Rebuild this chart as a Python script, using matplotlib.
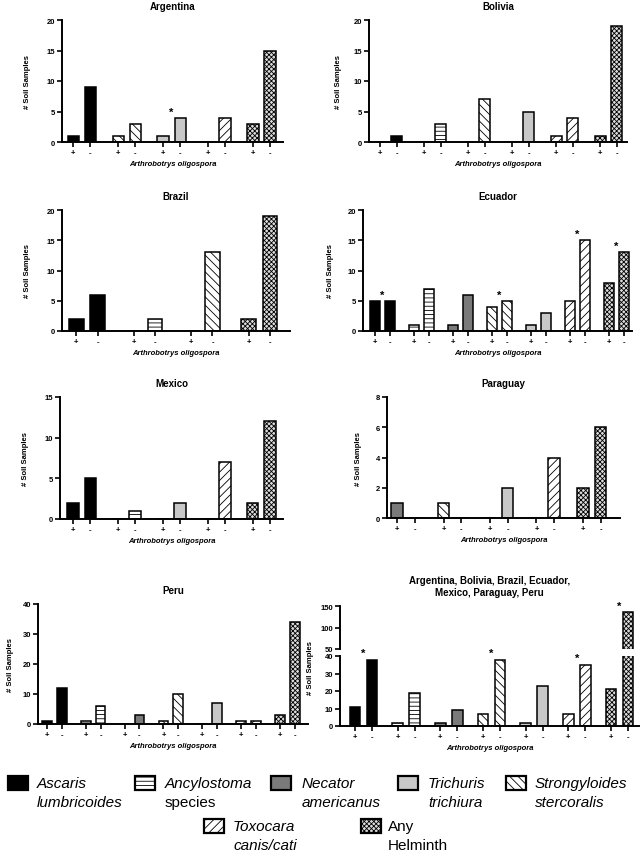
import matplotlib
matplotlib.use('Agg')
import matplotlib.pyplot as plt
from matplotlib.patches import Rectangle
import numpy as np

# species order as used in the panels
species = ['Ascaris', 'Ancylostoma', 'Necator', 'Strongyloides', 'Trichuris', 'Toxocara', 'Any']

# per-country counts: "+" = A. oligospora present, "-" = absent
argentina_groups = ['Ascaris', 'Strongyloides', 'Trichuris', 'Toxocara', 'Any']
argentina_pos = [1, 1, 1, 0, 3]
argentina_neg = [9, 3, 4, 4, 15]
argentina_star = ['Trichuris']

bolivia_groups = ['Ascaris', 'Ancylostoma', 'Strongyloides', 'Trichuris', 'Toxocara', 'Any']
bolivia_pos = [0, 0, 0, 0, 1, 1]
bolivia_neg = [1, 3, 7, 5, 4, 19]
bolivia_star = []

brazil_groups = ['Ascaris', 'Ancylostoma', 'Strongyloides', 'Any']
brazil_pos = [2, 0, 0, 2]
brazil_neg = [6, 2, 13, 19]
brazil_star = []

ecuador_groups = ['Ascaris', 'Ancylostoma', 'Necator', 'Strongyloides', 'Trichuris', 'Toxocara', 'Any']
ecuador_pos = [5, 1, 1, 4, 1, 5, 8]
ecuador_neg = [5, 7, 6, 5, 3, 15, 13]
ecuador_star = ['Ascaris', 'Strongyloides', 'Toxocara', 'Any']

mexico_groups = ['Ascaris', 'Ancylostoma', 'Trichuris', 'Toxocara', 'Any']
mexico_pos = [2, 0, 0, 0, 2]
mexico_neg = [5, 1, 2, 7, 12]
mexico_star = []

paraguay_groups = ['Necator', 'Strongyloides', 'Trichuris', 'Toxocara', 'Any']
paraguay_pos = [1, 1, 0, 0, 2]
paraguay_neg = [0, 0, 2, 4, 6]
paraguay_star = []

peru_groups = ['Ascaris', 'Ancylostoma', 'Necator', 'Strongyloides', 'Trichuris', 'Toxocara', 'Any']
peru_pos = [1, 1, 0, 1, 0, 1, 3]
peru_neg = [12, 6, 3, 10, 7, 1, 34]
peru_star = []

all_groups = ['Ascaris', 'Ancylostoma', 'Necator', 'Strongyloides', 'Trichuris', 'Toxocara', 'Any']
all_pos = [11, 2, 2, 7, 2, 7, 21]
all_neg = [38, 19, 9, 38, 23, 35, 137]
all_star = ['Ascaris', 'Strongyloides', 'Toxocara', 'Any']

legend_line1 = ['Ascaris', 'Ancylostoma', 'Necator', 'Trichuris', 'Strongyloides', 'Toxocara', 'Any']
legend_line2 = ['lumbricoides', 'species', 'americanus', 'trichiura', 'stercoralis', 'canis/cati', 'Helminth']

plt.rcParams['font.family'] = ['Liberation Sans', 'DejaVu Sans']
plt.rcParams['hatch.linewidth'] = 0.6

style = {
    'Ascaris': dict(facecolor='black', hatch=None),
    'Ancylostoma': dict(facecolor='white', hatch='----'),
    'Necator': dict(facecolor='#7a7a7a', hatch=None),
    'Strongyloides': dict(facecolor='white', hatch='\\\\\\\\'),
    'Trichuris': dict(facecolor='#c8c8c8', hatch=None),
    'Toxocara': dict(facecolor='white', hatch='////'),
    'Any': dict(facecolor='#dcdcdc', hatch='xxxxxxx'),
}

W, H = 640, 853
fig = plt.figure(figsize=(W / 100, H / 100), dpi=100)


def px_axes(left, right, top, bottom):
    return fig.add_axes([left / W, 1 - bottom / H, (right - left) / W, (bottom - top) / H])


def style_axis(ax, fs=5.5):
    ax.spines['top'].set_visible(False)
    ax.spines['right'].set_visible(False)
    ax.spines['left'].set_linewidth(1.4)
    ax.spines['bottom'].set_linewidth(1.4)
    ax.tick_params(axis='both', length=3.5, width=1.2, labelsize=fs, pad=1.5)
    for lab in ax.get_yticklabels() + ax.get_xticklabels():
        lab.set_fontweight('bold')


def draw_bars(ax, groups, pos, neg, offset=0.38, width=0.25):
    x = np.arange(len(groups))
    for i, g in enumerate(groups):
        st = style[g]
        for xx, v in [(x[i], pos[i]), (x[i] + offset, neg[i])]:
            ax.bar(xx, v, width, facecolor=st['facecolor'], hatch=st['hatch'],
                   edgecolor='black', linewidth=1.1, zorder=2)
    ticks = np.ravel(np.column_stack([x, x + offset]))
    ax.set_xticks(ticks)
    ax.set_xticklabels(['+', '-'] * len(groups))
    return x


def panel(box, title, groups, pos, neg, stars, ymax, ystep, xlim,
          offset=0.38, width=0.25, ylabpad=8):
    ax = px_axes(*box)
    x = draw_bars(ax, groups, pos, neg, offset, width)
    ax.set_ylim(0, ymax)
    ax.set_yticks(np.arange(0, ymax + 0.01, ystep))
    ax.set_xlim(*xlim)
    for i, g in enumerate(groups):
        if g in stars:
            top = max(pos[i], neg[i])
            ax.text(x[i] + offset / 2, top + ymax * 0.01, '*', ha='center', va='bottom',
                    fontsize=8, fontweight='bold')
    ax.set_title(title, fontsize=7, fontweight='bold', pad=8)
    ax.set_ylabel('# Soil Samples', fontsize=5.5, fontweight='bold', labelpad=ylabpad)
    ax.set_xlabel('Arthrobotrys oligospora', fontsize=5.5, fontweight='bold',
                  style='italic', labelpad=3)
    style_axis(ax)
    return ax


panel((62, 283, 21, 143), 'Argentina', argentina_groups, argentina_pos, argentina_neg,
      argentina_star, 20, 5, (-0.25, 4.67), ylabpad=11)
panel((369, 627, 21, 143), 'Bolivia', bolivia_groups, bolivia_pos, bolivia_neg,
      bolivia_star, 20, 5, (-0.25, 5.61))
panel((62, 290, 211, 332), 'Brazil', brazil_groups, brazil_pos, brazil_neg,
      brazil_star, 20, 5, (-0.25, 3.72), offset=0.37, ylabpad=11)
panel((363, 632, 211, 332), 'Ecuador', ecuador_groups, ecuador_pos, ecuador_neg,
      ecuador_star, 20, 5, (-0.31, 6.59), ylabpad=10)
panel((60, 283, 398, 520), 'Mexico', mexico_groups, mexico_pos, mexico_neg,
      mexico_star, 15, 5, (-0.29, 4.67), ylabpad=11)
panel((387, 620, 398, 519), 'Paraguay', paraguay_groups, paraguay_pos, paraguay_neg,
      paraguay_star, 8, 2, (-0.22, 4.8), ylabpad=10)
panel((38, 308, 605, 725), 'Peru', peru_groups, peru_pos, peru_neg,
      peru_star, 40, 10, (-0.23, 6.72), offset=0.38, width=0.25, ylabpad=6)

# combined panel with broken y axis
low = px_axes(340, 639, 657, 727)
up = px_axes(340, 639, 607, 650)
for ax in (low, up):
    x = draw_bars(ax, all_groups, all_pos, all_neg, 0.4, 0.25)
    ax.set_xlim(-0.35, 6.66)
low.set_ylim(0, 40)
low.set_yticks([0, 10, 20, 30, 40])
up.set_ylim(50, 150)
up.set_yticks([50, 100, 150])
up.set_xticks([])
up.spines['bottom'].set_visible(False)
for i, g in enumerate(all_groups):
    if g in all_star:
        top = max(all_pos[i], all_neg[i])
        target = up if top > 40 else low
        target.text(x[i] + 0.2, top + 1, '*', ha='center', va='bottom',
                    fontsize=8, fontweight='bold', clip_on=False)
low.set_xlabel('Arthrobotrys oligospora', fontsize=5.5, fontweight='bold',
               style='italic', labelpad=3)
style_axis(low)
style_axis(up)
up.tick_params(axis='x', length=0)
up.set_title('Argentina, Bolivia, Brazil, Ecuador,\nMexico, Paraguay, Peru',
             fontsize=7, fontweight='bold', pad=8, linespacing=1.2)
fig.text(310 / W, 1 - 668 / H, '# Soil Samples', rotation=90, ha='center', va='center',
         fontsize=5.5, fontweight='bold')

# legend
legend_xy = [(8, 777), (135, 777), (271, 777), (398, 777), (506, 777), (204, 820), (361, 820)]
legend_text_x = [37, 165, 302, 428, 535, 233, 388]
italic2 = [True, False, True, True, True, True, False]
italic1 = [True, True, True, True, True, True, False]
keys = ['Ascaris', 'Ancylostoma', 'Necator', 'Trichuris', 'Strongyloides', 'Toxocara', 'Any']
for k, (px, py), tx, l1, l2, it1, it2 in zip(keys, legend_xy, legend_text_x, legend_line1,
                                              legend_line2, italic1, italic2):
    st = style[k]
    r = Rectangle((px / W, 1 - (py + 14) / H), 20 / W, 14 / H, transform=fig.transFigure,
                  facecolor=st['facecolor'], hatch=st['hatch'], edgecolor='black',
                  linewidth=1.6)
    fig.add_artist(r)
    fig.text(tx / W, 1 - (py + 7) / H, l1, ha='left', va='center', fontsize=11,
             style='italic' if it1 else 'normal')
    fig.text(tx / W, 1 - (py + 26) / H, l2, ha='left', va='center', fontsize=11,
             style='italic' if it2 else 'normal')

fig.savefig('out.png', dpi=100)
